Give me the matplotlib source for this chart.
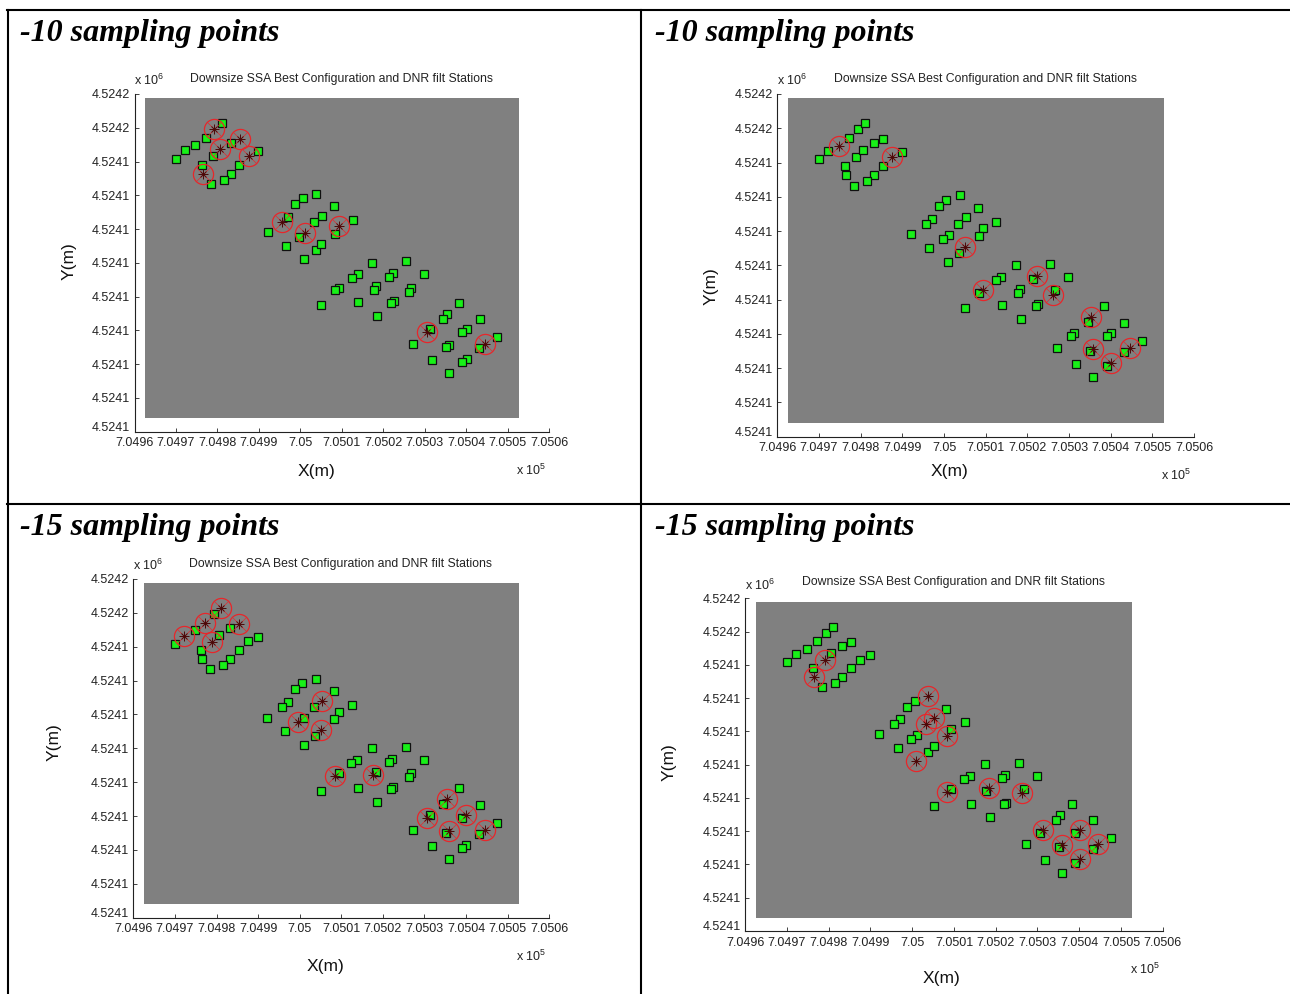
import matplotlib
matplotlib.use("Agg")
import matplotlib.pyplot as plt
from matplotlib.lines import Line2D
from matplotlib.patches import Rectangle
from matplotlib.transforms import ScaledTranslation
from matplotlib import font_manager
import numpy as np

# ---------------- data ----------------
station_x = [704970.0, 704972.1, 704974.7, 704977.2, 704979.3, 704981.1, 704976.2, 704976.5, 704978.5,
             704979.0, 704980.6, 704983.2, 704985.4, 704987.6, 704989.9, 704985.3, 704983.2, 704981.6,
             705003.8, 705000.6, 704998.8, 705008.2, 704997.1, 704995.7, 705005.3, 705003.4, 705012.6,
             705009.4, 705008.3, 704992.1, 705001.1, 704999.7, 704996.5, 705003.7, 705001.0, 705005.1,
             705017.4, 705025.5, 705013.8, 705012.4, 705022.3, 705021.4, 705029.8, 705009.4, 705008.4,
             705018.3, 705017.7, 705026.7, 705026.2, 705005.1, 705014.0, 705022.5, 705022.0, 705018.6,
             705038.3, 705035.4, 705034.5, 705043.3, 705040.1, 705039.1, 705031.3, 705030.6, 705047.5,
             705027.2, 705035.8, 705035.1, 705043.2, 705044.6, 705031.7, 705040.1, 705039.1, 705035.8]
station_y = [4524140.9, 4524143.3, 4524144.8, 4524147.1, 4524149.7, 4524151.4, 4524139.1, 4524136.3, 4524133.3,
             4524141.5, 4524143.6, 4524145.6, 4524146.8, 4524141.6, 4524143.0, 4524138.9, 4524136.3, 4524134.5,
             4524130.5, 4524129.2, 4524127.4, 4524126.8, 4524123.6, 4524122.1, 4524124.0, 4524122.1, 4524122.7,
             4524120.8, 4524118.6, 4524119.1, 4524118.9, 4524117.7, 4524115.0, 4524113.7, 4524111.0, 4524115.5,
             4524110.1, 4524110.5, 4524106.6, 4524105.6, 4524106.9, 4524105.9, 4524106.6, 4524102.7, 4524101.9,
             4524103.0, 4524102.0, 4524102.7, 4524101.4, 4524097.5, 4524098.3, 4524098.6, 4524098.1, 4524094.2,
             4524098.2, 4524095.0, 4524093.5, 4524093.3, 4524090.3, 4524089.4, 4524090.3, 4524089.5, 4524088.0,
             4524086.0, 4524085.7, 4524085.1, 4524084.7, 4524086.0, 4524081.3, 4524081.6, 4524080.5, 4524077.3]

# selected sampling stations (indices into station lists) for each panel
selected_p1 = [4, 10, 12, 13, 7, 23, 30, 27, 61, 67]
selected_p2 = [2, 13, 35, 43, 40, 48, 55, 64, 69, 67]
selected_p3 = [1, 3, 5, 12, 9, 24, 31, 35, 44, 46, 55, 61, 58, 64, 67]
selected_p4 = [9, 7, 18, 24, 25, 28, 34, 44, 45, 48, 60, 58, 64, 67, 69]

panel_headings = ["-10 sampling points", "-10 sampling points",
                  "-15 sampling points", "-15 sampling points"]
chart_title = "Downsize SSA Best Configuration and DNR filt Stations"

grid_x = [704962.5, 705052.7]      # grey background extent
grid_y = [4524064.0, 4524158.8]

x_ticks = [704960, 704970, 704980, 704990, 705000, 705010, 705020, 705030, 705040, 705050, 705060]
x_tick_labels = ["7.0496", "7.0497", "7.0498", "7.0499", "7.05", "7.0501", "7.0502",
                 "7.0503", "7.0504", "7.0505", "7.0506"]
y_ticks = [4524060, 4524070, 4524080, 4524090, 4524100, 4524110, 4524120, 4524130, 4524140, 4524150, 4524160]
y_tick_labels = ["4.5241", "4.5241", "4.5241", "4.5241", "4.5241", "4.5241", "4.5241",
                 "4.5241", "4.5241", "4.5242", "4.5242"]

# ---------------- style ----------------
W, H = 1290, 994
available = {f.name for f in font_manager.fontManager.ttflist}
sans = "Liberation Sans Narrow" if "Liberation Sans Narrow" in available else "Liberation Sans"
narrow = sans == "Liberation Sans Narrow"
plt.rcParams['font.family'] = [sans, 'DejaVu Sans']
plt.rcParams['mathtext.default'] = 'regular'

tick_fs = 10.5 if narrow else 9
title_fs = 10.5 if narrow else 8.8

fig = plt.figure(figsize=(W / 100, H / 100), dpi=100)


def fx(px):
    return px / W


def fy(py):
    return 1 - py / H


# axes boxes in pixels: left, top, right, bottom
boxes = [(134.5, 94, 549, 431.7), (777.3, 94, 1194, 436.7),
         (133.4, 579, 549.25, 917.7), (745.25, 598.3, 1162.75, 931)]
title_pos = [(341.7, 79), (985, 79), (340, 564), (953.5, 582.5)]
xlabel_pos = [(316, 471.5), (949, 471.5), (325, 966.5), (941, 979)]
ylabel_pos = [(69.5, 261.5), (711.5, 286.5), (54, 742), (669, 762)]
heading_pos = [(20, 33), (655, 33), (20, 528), (655, 528)]
selected_all = [selected_p1, selected_p2, selected_p3, selected_p4]

sx = np.array(station_x)
sy = np.array(station_y)

for i in range(4):
    l, t, r, b = boxes[i]
    ax = fig.add_axes([fx(l), fy(b), fx(r) - fx(l), fy(t) - fy(b)])
    ax.set_xlim(x_ticks[0], x_ticks[-1])
    ax.set_ylim(y_ticks[0], y_ticks[-1])
    ax.add_patch(Rectangle((grid_x[0], grid_y[0]), grid_x[1] - grid_x[0], grid_y[1] - grid_y[0],
                           facecolor='#808080', edgecolor='none', zorder=1))
    sel = selected_all[i]
    mask = np.ones(len(sx), dtype=bool)
    mask[sel] = False
    ax.plot(sx[mask], sy[mask], 's', ms=5.8, mfc='#18f018', mec='#101010', mew=0.9, zorder=3)
    ax.plot(sx[sel], sy[sel], 'o', ms=14.5, mfc='none', mec='#e8262a', mew=0.9, zorder=4)
    ax.plot(sx[sel], sy[sel], 'x', ms=10, mec='#e8262a', mew=0.45, zorder=4)
    ax.plot(sx[sel], sy[sel], '+', ms=7, mec='#4a0808', mew=0.7, zorder=5)
    ax.plot(sx[sel], sy[sel], 'x', ms=5, mec='#4a0808', mew=0.7, zorder=5)

    ax.set_xticks(x_ticks)
    ax.set_xticklabels(x_tick_labels)
    ax.set_yticks(y_ticks)
    ax.set_yticklabels(y_tick_labels)
    ax.tick_params(direction='in', length=3, width=0.6, labelsize=tick_fs, pad=3, colors='#222222')
    ax.tick_params(axis='x', pad=4)
    # raise the lowest y label slightly so it clears the x labels
    lab0 = ax.get_yticklabels()[0]
    lab0.set_transform(lab0.get_transform() + ScaledTranslation(0, 4 / 72, fig.dpi_scale_trans))
    for s in ['top', 'right']:
        ax.spines[s].set_visible(False)
    for s in ['left', 'bottom']:
        ax.spines[s].set_linewidth(0.8)
        ax.spines[s].set_color('#222222')
    ax.set_facecolor('white')

    # exponent labels
    ax.annotate(r'x 10$^{6}$', xy=(0, 1), xycoords='axes fraction', xytext=(0, 4),
                textcoords='offset points', ha='left', va='bottom', fontsize=tick_fs, color='#222222')
    ax.annotate(r'x 10$^{5}$', xy=(1, 0), xycoords='axes fraction', xytext=(-2, -28),
                textcoords='offset points', ha='right', va='center', fontsize=tick_fs, color='#222222')

    fig.text(fx(title_pos[i][0]), fy(title_pos[i][1]), chart_title, ha='center', va='center',
             fontsize=title_fs, color='#222222')
    fig.text(fx(xlabel_pos[i][0]), fy(xlabel_pos[i][1]), "X(m)", ha='center', va='center',
             fontsize=12.5, color='#111111')
    fig.text(fx(ylabel_pos[i][0]), fy(ylabel_pos[i][1]), "Y(m)", ha='center', va='center',
             rotation=90, fontsize=12.5, color='#111111')
    fig.text(fx(heading_pos[i][0]), fy(heading_pos[i][1]), panel_headings[i], ha='left', va='center',
             fontsize=23, fontweight='bold', fontstyle='italic', family=['Liberation Serif', 'DejaVu Serif'])

# table borders
lw = 1.5
fig.add_artist(Line2D([fx(7), fx(W)], [fy(10), fy(10)], color='black', lw=lw))
fig.add_artist(Line2D([fx(7), fx(W)], [fy(504), fy(504)], color='black', lw=lw))
fig.add_artist(Line2D([fx(7.7), fx(7.7)], [fy(10), fy(H)], color='black', lw=lw))
fig.add_artist(Line2D([fx(641), fx(641)], [fy(10), fy(H)], color='black', lw=lw))

fig.savefig("out.png", dpi=100)
